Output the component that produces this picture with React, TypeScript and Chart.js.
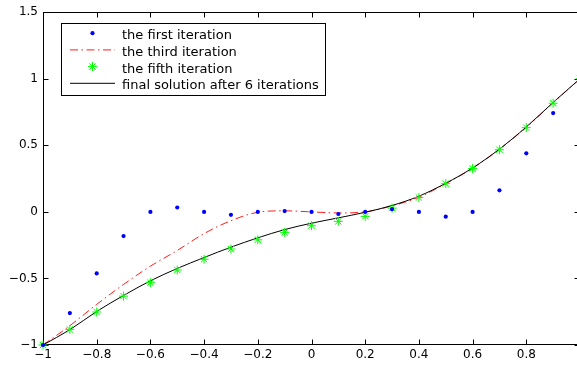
import React, { useEffect, useRef } from "react";
import { Chart, registerables } from "chart.js";

Chart.register(...registerables);

// ---- data ----
const xs = [-1, -0.9, -0.8, -0.7, -0.6, -0.5, -0.4, -0.3, -0.2, -0.1, 0, 0.1, 0.2, 0.3, 0.4, 0.5, 0.6, 0.7, 0.8, 0.9, 1];

const firstIteration = [-1, -0.76, -0.462, -0.182, 0, 0.033, 0, -0.022, 0, 0.006, 0, -0.016, 0, 0.02, 0, -0.036, 0, 0.162, 0.44, 0.742, 1];
const thirdIteration = [-1, -0.855, -0.695, -0.545, -0.408, -0.29, -0.163, -0.066, -0.003, 0.008, 0, -0.008, 0, 0.045, 0.11, 0.212, 0.328, 0.47, 0.635, 0.82, 1];
const fifthIteration = [-1, -0.883, -0.752, -0.633, -0.532, -0.437, -0.356, -0.279, -0.21, -0.154, -0.104, -0.071, -0.034, 0.028, 0.108, 0.212, 0.326, 0.467, 0.633, 0.816, 1];
const finalSolution = [-1, -0.885, -0.748, -0.628, -0.518, -0.425, -0.343, -0.265, -0.195, -0.133, -0.085, -0.045, -0.003, 0.048, 0.118, 0.215, 0.33, 0.472, 0.638, 0.822, 1];

const seriesLabels = [
  "the first iteration",
  "the third iteration",
  "the fifth iteration",
  "final solution after 6 iterations",
];

const xTickValues = [-1, -0.8, -0.6, -0.4, -0.2, 0, 0.2, 0.4, 0.6, 0.8, 1];
const xTickLabels = ["\u22121", "\u22120.8", "\u22120.6", "\u22120.4", "\u22120.2", "0", "0.2", "0.4", "0.6", "0.8", ""];
const yTickValues = [-1, -0.5, 0, 0.5, 1, 1.5];
const yTickLabels = ["\u22121", "\u22120.5", "0", "0.5", "1", "1.5"];

const FONT = "'DejaVu Sans', sans-serif";

const toPoints = (ys: number[]) => xs.map((x, i) => ({ x, y: ys[i] }));

// Box with inward ticks on all four sides (MATLAB style)
const boxPlugin = {
  id: "boxTicks",
  beforeDatasetsDraw(chart: any) {
    const { ctx, chartArea: a, scales } = chart;
    const tl = 5;
    ctx.save();
    ctx.strokeStyle = "#000";
    ctx.lineWidth = 1;
    const L = Math.round(a.left) + 0.5;
    const R = Math.round(a.right) - 0.5;
    const T = Math.round(a.top) + 0.5;
    const B = Math.round(a.bottom) - 0.5;
    ctx.strokeRect(L, T, R - L, B - T);
    ctx.beginPath();
    xTickValues.forEach((v) => {
      const px = Math.round(scales.x.getPixelForValue(v)) + 0.5;
      ctx.moveTo(px, B);
      ctx.lineTo(px, B - tl);
      ctx.moveTo(px, T);
      ctx.lineTo(px, T + tl);
    });
    yTickValues.forEach((v) => {
      const py = Math.round(scales.y.getPixelForValue(v)) + 0.5;
      ctx.moveTo(L, py);
      ctx.lineTo(L + tl, py);
      ctx.moveTo(R, py);
      ctx.lineTo(R - tl, py);
    });
    ctx.stroke();
    ctx.restore();
  },
};

// Legend inside the axes, upper-left
const legendPlugin = {
  id: "innerLegend",
  afterDraw(chart: any) {
    const { ctx, chartArea: a } = chart;
    const bx = Math.round(a.left + 18) + 0.5;
    const by = Math.round(a.top + 11) + 0.5;
    const bw = 264;
    const bh = 72;
    ctx.save();
    ctx.fillStyle = "#fff";
    ctx.fillRect(bx, by, bw, bh);
    ctx.strokeStyle = "#000";
    ctx.lineWidth = 1;
    ctx.strokeRect(bx, by, bw, bh);
    const x0 = a.left + 27;
    const x1 = a.left + 72;
    const xm = (x0 + x1) / 2;
    const order = [0, 1, 2, 3];
    order.forEach((i) => {
      const ds = chart.data.datasets[i];
      const ry = a.top + 21 + i * 16.7;
      if (ds.showLine !== false && ds.borderWidth > 0) {
        ctx.save();
        ctx.strokeStyle = ds.borderColor;
        ctx.lineWidth = ds.borderWidth;
        ctx.setLineDash(ds.borderDash || []);
        ctx.beginPath();
        ctx.moveTo(x0, ry);
        ctx.lineTo(x1, ry);
        ctx.stroke();
        ctx.restore();
      }
      if (ds.pointRadius > 0) {
        ctx.save();
        if (ds.pointStyle === "star") {
          const r = ds.pointRadius;
          const d = r * Math.SQRT1_2;
          ctx.strokeStyle = ds.pointBorderColor;
          ctx.lineWidth = ds.pointBorderWidth;
          ctx.beginPath();
          ctx.moveTo(xm - r, ry); ctx.lineTo(xm + r, ry);
          ctx.moveTo(xm, ry - r); ctx.lineTo(xm, ry + r);
          ctx.moveTo(xm - d, ry - d); ctx.lineTo(xm + d, ry + d);
          ctx.moveTo(xm - d, ry + d); ctx.lineTo(xm + d, ry - d);
          ctx.stroke();
        } else {
          ctx.fillStyle = ds.pointBackgroundColor;
          ctx.beginPath();
          ctx.arc(xm, ry, ds.pointRadius, 0, Math.PI * 2);
          ctx.fill();
        }
        ctx.restore();
      }
      ctx.fillStyle = "#000";
      ctx.font = `13px ${FONT}`;
      ctx.textAlign = "left";
      ctx.textBaseline = "alphabetic";
      ctx.fillText(ds.label, a.left + 79, ry + 6);
    });
    ctx.restore();
  },
};

export default function App() {
  const canvasRef = useRef<HTMLCanvasElement | null>(null);

  useEffect(() => {
    const canvas = canvasRef.current;
    if (!canvas) return;
    const chart = new Chart(canvas, {
      type: "line",
      data: {
        datasets: [
          {
            label: seriesLabels[0],
            data: toPoints(firstIteration),
            showLine: false,
            borderWidth: 0,
            borderColor: "#0000ff",
            pointRadius: 2.1,
            pointStyle: "circle",
            pointBackgroundColor: "#0000ff",
            pointBorderColor: "#0000ff",
            pointBorderWidth: 0,
            clip: false,
            order: 0,
          },
          {
            label: seriesLabels[1],
            data: toPoints(thirdIteration),
            borderColor: "#ff0000",
            borderWidth: 0.9,
            borderDash: [8, 3.5, 1.5, 3.5],
            pointRadius: 0,
            cubicInterpolationMode: "monotone",
            clip: false,
            order: 3,
          },
          {
            label: seriesLabels[2],
            data: toPoints(fifthIteration),
            showLine: false,
            borderWidth: 0,
            borderColor: "#00ff00",
            pointStyle: "star",
            pointRadius: 4.5,
            pointBorderColor: "#00ff00",
            pointBackgroundColor: "#00ff00",
            pointBorderWidth: 1,
            clip: false,
            order: 1,
          },
          {
            label: seriesLabels[3],
            data: toPoints(finalSolution),
            borderColor: "#000000",
            borderWidth: 1,
            pointRadius: 0,
            cubicInterpolationMode: "monotone",
            clip: false,
            order: 2,
          },
        ] as any,
      },
      options: {
        animation: false,
        responsive: false,
        devicePixelRatio: 1,
        layout: { padding: { top: 10, right: 10, left: 0, bottom: 0 } },
        plugins: {
          legend: { display: false },
          tooltip: { enabled: false },
        },
        scales: {
          x: {
            type: "linear",
            min: -1,
            max: 1,
            border: { display: false },
            grid: { display: false, drawTicks: false },
            afterBuildTicks: (scale: any) => {
              scale.ticks = xTickValues.map((v) => ({ value: v }));
            },
            afterFit: (scale: any) => {
              scale.height = 20;
            },
            ticks: {
              autoSkip: false,
              maxRotation: 0,
              padding: 3,
              color: "#000",
              font: { family: FONT, size: 12 },
              callback: (_v: any, i: number) => xTickLabels[i],
            },
          },
          y: {
            type: "linear",
            min: -1,
            max: 1.5,
            border: { display: false },
            grid: { display: false, drawTicks: false },
            afterBuildTicks: (scale: any) => {
              scale.ticks = yTickValues.map((v) => ({ value: v }));
            },
            afterFit: (scale: any) => {
              scale.width = 43;
            },
            ticks: {
              autoSkip: false,
              padding: 5,
              color: "#000",
              font: { family: FONT, size: 12 },
              callback: (_v: any, i: number) => yTickLabels[i],
            },
          },
        },
      } as any,
      plugins: [boxPlugin, legendPlugin],
    });
    return () => chart.destroy();
  }, []);

  return (
    <div
      style={{
        position: "fixed",
        left: 0,
        top: 0,
        width: 577,
        height: 365,
        overflow: "hidden",
        background: "#fff",
      }}
    >
      <canvas ref={canvasRef} width={590} height={365} style={{ display: "block" }} />
    </div>
  );
}
